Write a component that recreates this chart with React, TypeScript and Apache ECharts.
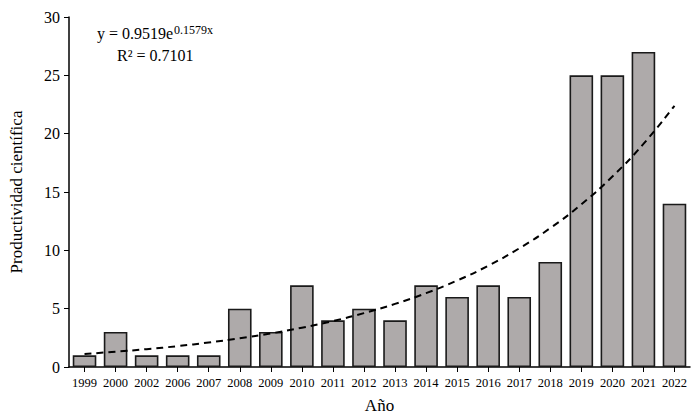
import React, { useEffect, useRef } from "react";
import * as echarts from "echarts";

const years = ["1999","2000","2002","2006","2007","2008","2009","2010","2011","2012","2013","2014","2015","2016","2017","2018","2019","2020","2021","2022"];
const productividad = [1, 3, 1, 1, 1, 5, 3, 7, 4, 5, 4, 7, 6, 7, 6, 9, 25, 25, 27, 14];
// Exponential trend line values (y = 0.9519e^0.1579x)
const tendencia = [1.12, 1.31, 1.53, 1.79, 2.10, 2.46, 2.88, 3.37, 3.94, 4.62, 5.41, 6.33, 7.41, 8.68, 10.17, 11.91, 13.94, 16.33, 19.12, 22.39];
const yTicks = { min: 0, max: 30, interval: 5 };

export default function App() {
  const ref = useRef<HTMLDivElement>(null);
  useEffect(() => {
    const chart = echarts.init(ref.current!, null, { renderer: "svg" });
    const font = "'Liberation Serif', 'Times New Roman', serif";
    chart.setOption({
      animation: false,
      backgroundColor: "#ffffff",
      grid: { left: 62, right: 10, top: 17, bottom: 47, containLabel: false },
      xAxis: {
        type: "category",
        data: years,
        boundaryGap: true,
        name: "Año",
        nameLocation: "middle",
        nameGap: 30,
        nameTextStyle: { fontFamily: font, fontSize: 17, color: "#000" },
        axisLine: { lineStyle: { color: "#000", width: 1.5 } },
        axisTick: { show: true, alignWithLabel: true, length: 5, lineStyle: { color: "#000", width: 1 } },
        axisLabel: { fontFamily: font, fontSize: 12.5, color: "#000", interval: 0, margin: 9 },
      },
      yAxis: {
        type: "value",
        min: yTicks.min,
        max: yTicks.max,
        interval: yTicks.interval,
        name: "Productividad científica",
        nameLocation: "middle",
        nameGap: 44,
        nameTextStyle: { fontFamily: font, fontSize: 17, color: "#000" },
        axisLine: { show: true, lineStyle: { color: "#000", width: 1.5 } },
        axisTick: { show: true, length: 5, lineStyle: { color: "#000", width: 1 } },
        axisLabel: { fontFamily: font, fontSize: 16, color: "#000", margin: 9 },
        splitLine: { show: false },
      },
      series: [
        {
          type: "bar",
          data: productividad,
          barCategoryGap: "24%",
          itemStyle: { color: "#aeaaaa", borderColor: "#1a1a1a", borderWidth: 1.6 },
        },
        {
          type: "line",
          data: tendencia,
          smooth: true,
          symbol: "none",
          lineStyle: { color: "#000", width: 2, type: [7, 5] },
          z: 5,
        },
      ],
      graphic: [
        {
          type: "text",
          left: 97,
          top: 25,
          style: { text: "y = 0.9519e", fontFamily: font, fontSize: 16, fill: "#000" },
        },
        {
          type: "text",
          left: 174,
          top: 24,
          style: { text: "0.1579x", fontFamily: font, fontSize: 12, fill: "#000" },
        },
        {
          type: "text",
          left: 117,
          top: 47,
          style: { text: "R² = 0.7101", fontFamily: font, fontSize: 16, fill: "#000" },
        },
      ],
    });
    return () => chart.dispose();
  }, []);
  return <div ref={ref} style={{ width: 700, height: 419, position: "absolute", left: 0, top: 0 }} />;
}
